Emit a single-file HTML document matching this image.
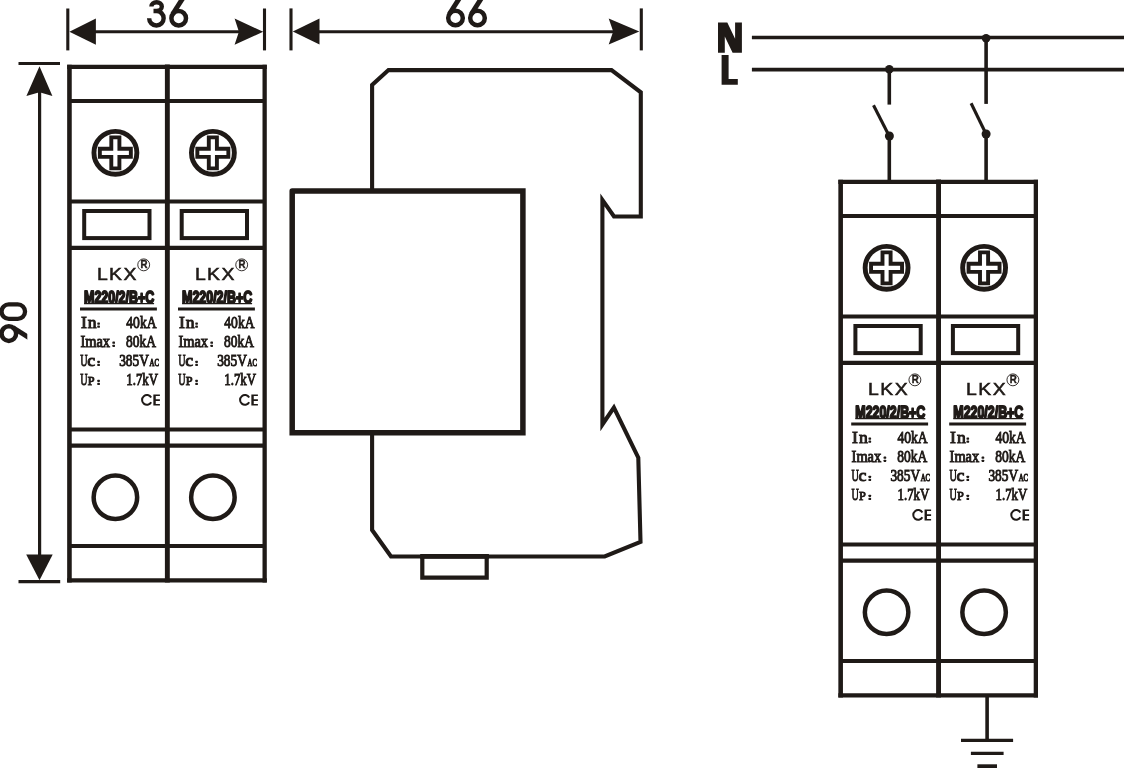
<!DOCTYPE html>
<html>
<head>
<meta charset="utf-8">
<title>Dimensions and wiring</title>
<style>
html,body{margin:0;padding:0;background:#fff;}
body{width:1124px;height:768px;overflow:hidden;font-family:"Liberation Sans",sans-serif;}
svg{display:block;position:absolute;left:0;top:0;will-change:transform;}
.ln{stroke:#1f1a17;fill:none;}
.fl{fill:#1f1a17;stroke:none;}
text{fill:#1f1a17;}
.sans{font-family:"Liberation Sans",sans-serif;}
.serif{font-family:"Liberation Serif",serif;}
</style>
</head>
<body>
<svg width="1124" height="768" viewBox="0 0 1124 768">
<rect x="0" y="0" width="1124" height="768" fill="#ffffff"/>
<defs>
  <clipPath id="capclip"><rect x="-14" y="-28" width="28" height="30"/></clipPath>
  <!-- geometric digits, origin: x = glyph centre, y = baseline -->
  <g id="d6" clip-path="url(#capclip)">
    <circle class="ln" cx="0" cy="-9.55" r="7.3" stroke-width="4.5"/>
    <line class="ln" x1="-6.14" y1="-13.54" x2="5.5" y2="-31.7" stroke-width="4.9"/>
  </g>
  <g id="d9"><use href="#d6" transform="translate(0,-28) scale(-1,-1)"/></g>
  <g id="d0">
    <rect class="ln" x="-7.25" y="-25.75" width="14.5" height="23.5" rx="7.25" ry="7.25" stroke-width="4.3"/>
  </g>
  <g id="d3">
    <path class="ln" stroke-width="4.4" d="M-5.1 -21.2 A5.2 4.4 0 1 1 0.1 -16.8 L-3 -16.8 M-3 -16.8 L-0.1 -16.8 A7.25 7.25 0 1 1 -7.35 -9.55"/>
  </g>
  <!-- one cell's label text, origin = left device left cell -->
  <g id="label">
    <text class="sans" x="96.9" y="279.6" font-size="16.4" textLength="40.9" lengthAdjust="spacingAndGlyphs" stroke="#1f1a17" stroke-width="0.5" letter-spacing="1.2">LKX</text>
    <circle class="ln" cx="143.7" cy="264.85" r="5.95" stroke-width="0.9"/>
    <text class="sans" x="140.5" y="268.3" font-size="10.4" font-weight="bold" textLength="7" lengthAdjust="spacingAndGlyphs" stroke="#1f1a17" stroke-width="0.4">R</text>
    <text class="sans" x="84.1" y="303.3" font-size="17.2" font-weight="bold" textLength="70" lengthAdjust="spacingAndGlyphs" stroke="#1f1a17" stroke-width="1.9" stroke-linejoin="round">M220/2/B+C</text>
    <line class="ln" x1="84.1" y1="303.7" x2="154.1" y2="303.7" stroke-width="1.2"/>
    <line class="ln" x1="80" y1="309" x2="156.9" y2="309" stroke-width="3"/>
    <g class="serif" font-size="16.4" stroke="#1f1a17" stroke-width="0.95">
      <text x="80.9" y="327.7" textLength="5.9" lengthAdjust="spacingAndGlyphs">I</text><text x="87.8" y="327.7" textLength="8.8" lengthAdjust="spacingAndGlyphs">n</text>
      <text x="126.3" y="327.7" textLength="30.2" lengthAdjust="spacingAndGlyphs">40kA</text>
      <text x="80.4" y="346.8" textLength="29.6" lengthAdjust="spacingAndGlyphs">Imax</text>
      <text x="126" y="346.8" textLength="30" lengthAdjust="spacingAndGlyphs">80kA</text>
      <text x="80.2" y="365.9" textLength="7.3" lengthAdjust="spacingAndGlyphs">U</text><text x="87.3" y="365.9" textLength="7.9" lengthAdjust="spacingAndGlyphs">c</text>
      <text x="119.2" y="365.9" textLength="29.7" lengthAdjust="spacingAndGlyphs">385V</text>
      <text x="149.5" y="365.9" font-size="9.8" textLength="9.4" lengthAdjust="spacingAndGlyphs">AC</text>
      <text x="80.2" y="384.9" textLength="7.3" lengthAdjust="spacingAndGlyphs">U</text>
      <text x="87.8" y="384.9" font-size="13.2" textLength="6.8" lengthAdjust="spacingAndGlyphs">P</text>
      <text x="126.3" y="384.9" textLength="31.8" lengthAdjust="spacingAndGlyphs">1.7kV</text>
    </g>
    <!-- colons -->
    <g class="fl">
      <rect x="97.3" y="322.5" width="2.6" height="2.2" rx="0.6"/><rect x="97.3" y="325.6" width="2.6" height="2.2" rx="0.6"/>
      <rect x="112.4" y="341.6" width="2.6" height="2.2" rx="0.6"/><rect x="112.4" y="344.7" width="2.6" height="2.2" rx="0.6"/>
      <rect x="97.3" y="360.7" width="2.6" height="2.2" rx="0.6"/><rect x="97.3" y="363.8" width="2.6" height="2.2" rx="0.6"/>
      <rect x="97.3" y="379.7" width="2.6" height="2.2" rx="0.6"/><rect x="97.3" y="382.8" width="2.6" height="2.2" rx="0.6"/>
    </g>
    <path class="ln" stroke-width="2" d="M151.17 397.47 A4.87 4.87 0 1 0 151.17 402.33"/>
    <path class="fl" d="M153.35 394.4 H159.9 V396 H155.75 V399.3 H159.9 V400.9 H155.75 V403.95 H159.9 V405.5 H153.35 Z"/>
  </g>
  <!-- one cell's graphics -->
  <g id="cellgfx">
    <circle class="ln" cx="115.4" cy="152.8" r="21.45" stroke-width="4.9"/>
    <path class="ln" stroke-width="3.9" stroke-linejoin="miter" d="M111.3 137.35 H119.4 V148.8 H130.85 V156.9 H119.4 V168.35 H111.3 V156.9 H99.85 V148.8 H111.3 Z"/>
    <rect class="ln" x="84.2" y="211" width="65.3" height="27.1" stroke-width="4"/>
    <circle class="ln" cx="115.4" cy="497.2" r="21.75" stroke-width="4.5"/>
  </g>
  <g id="device">
    <line class="ln" x1="67.15" y1="66.9" x2="266.8" y2="66.9" stroke-width="4.1"/>
    <line class="ln" x1="67.15" y1="580.3" x2="266.8" y2="580.3" stroke-width="4.3"/>
    <line class="ln" x1="69.45" y1="64.85" x2="69.45" y2="582.45" stroke-width="4.6"/>
    <line class="ln" x1="264.65" y1="64.85" x2="264.65" y2="582.45" stroke-width="4.3"/>
    <line class="ln" x1="167.35" y1="64.6" x2="167.35" y2="582.45" stroke-width="4.9"/>
    <g class="ln" stroke-width="4.1">
      <line x1="69.5" y1="101" x2="264.7" y2="101"/>
      <line x1="69.5" y1="201.5" x2="264.7" y2="201.5"/>
      <line x1="69.5" y1="247.9" x2="264.7" y2="247.9"/>
      <line x1="69.5" y1="429.5" x2="264.7" y2="429.5"/>
      <line x1="69.5" y1="445.6" x2="264.7" y2="445.6"/>
      <line x1="69.5" y1="546" x2="264.7" y2="546"/>
    </g>
    <use href="#cellgfx"/>
    <use href="#cellgfx" transform="translate(97.5,0)"/>
    <use href="#label"/>
    <use href="#label" transform="translate(98,0)"/>
  </g>
</defs>

<!-- LEFT: front view -->
<use href="#device"/>
<!-- 36 dimension -->
<g class="ln" stroke-width="3.1">
  <line x1="67.8" y1="8.5" x2="67.8" y2="50.4"/>
  <line x1="264.5" y1="8.5" x2="264.5" y2="50.4"/>
  <line x1="90" y1="31.8" x2="240" y2="31.8"/>
</g>
<path class="fl" d="M69.4 31.8 L95.9 18.6 L95.9 44.8 Z"/>
<path class="fl" d="M263.2 31.8 L234.6 18.6 L238.9 31.8 L234.6 44.8 Z"/>
<g role="img" aria-label="36"><title>36</title><use href="#d3" transform="translate(156.5,27.8)"/><use href="#d6" transform="translate(178.7,27.8)"/></g>
<!-- 90 dimension -->
<g class="ln" stroke-width="3.2">
  <line x1="18.5" y1="63.5" x2="60" y2="63.5"/>
  <line x1="18.5" y1="581.6" x2="60.2" y2="581.6"/>
  <line x1="39.6" y1="90" x2="39.6" y2="560"/>
</g>
<path class="fl" d="M39.5 66.2 L52.4 96 L39.5 92.3 L26.4 96 Z"/>
<path class="fl" d="M39.5 580.3 L26.2 554.4 L52.7 554.4 Z"/>
<g role="img" aria-label="90" transform="translate(27.3,333.6) rotate(-90)"><title>90</title><use href="#d9"/><use href="#d0" transform="translate(22,0)"/></g>

<!-- MIDDLE: side view -->
<path class="ln" stroke-width="4.1" stroke-linejoin="miter" d="M372.1 191 L372.1 85 L388.5 70.1 L611.5 70.1 L640.8 92.3 L640.8 216.5 L614 216.5 L602.4 199.9 L602.4 424.5 L613.9 407.5 L638.3 457.7 L640.5 541.8 L604.7 556.5 L391 556.4 L372.1 530 L372.1 432.7"/>
<path class="ln" stroke-width="5.5" stroke-linejoin="miter" stroke-linecap="round" d="M292.2 191.1 H522.9 V432.8 H292.2 V191.1"/>
<path class="ln" stroke-width="4.2" d="M422.3 556.4 V577.7 H486.7 V556.4"/>
<line class="ln" x1="420.2" y1="556.4" x2="488.9" y2="556.4" stroke-width="4.8"/>
<!-- 66 dimension -->
<g class="ln" stroke-width="3.1">
  <line x1="291" y1="8.4" x2="291" y2="50.4"/>
  <line x1="641.3" y1="8.4" x2="641.3" y2="50.4"/>
  <line x1="315" y1="31.7" x2="615" y2="31.7"/>
</g>
<path class="fl" d="M292.8 31.6 L319.5 18.4 L319.5 44.6 Z"/>
<path class="fl" d="M639.3 31.6 L608.7 18.6 L613.2 31.6 L608.7 44.6 Z"/>
<g role="img" aria-label="66"><title>66</title><use href="#d6" transform="translate(455.5,27.5)"/><use href="#d6" transform="translate(477.5,27.5)"/></g>

<!-- RIGHT: wiring -->
<use href="#device" transform="translate(771.2,115)"/>
<path class="fl" aria-label="N" d="M718 52.75 V22.5 H727.3 L735.1 38.66 V22.5 H741.9 V52.75 H732.6 L724.8 36.59 V52.75 Z"/>
<path class="fl" aria-label="L" d="M721.6 55.1 H728.6 V79.1 H737.8 V84.8 H721.6 Z"/>
<g class="ln" stroke-width="3.6">
  <line x1="751.9" y1="37.5" x2="1124" y2="37.5"/>
  <line x1="751.9" y1="69.6" x2="1124" y2="69.6"/>
  <line x1="889.3" y1="69.6" x2="889.3" y2="104.6"/>
  <line x1="889.3" y1="136" x2="889.3" y2="182"/>
  <line x1="986.1" y1="37.5" x2="986.1" y2="103.9"/>
  <line x1="986.1" y1="134" x2="986.1" y2="182"/>
  <line x1="987.1" y1="696" x2="987.1" y2="740.3"/>
</g>
<g class="ln" stroke-width="3.1">
  <line x1="873.5" y1="105.2" x2="888.7" y2="135"/>
  <line x1="971.1" y1="103.2" x2="985.7" y2="133.3"/>
</g>
<g class="fl">
  <circle cx="889.3" cy="69.2" r="4.3"/>
  <circle cx="986.1" cy="38.2" r="4.3"/>
  <circle cx="889.4" cy="136" r="4.5"/>
  <circle cx="986.1" cy="134" r="4.5"/>
</g>
<g class="ln" stroke-width="3.3">
  <line x1="961" y1="740.3" x2="1013.1" y2="740.3"/>
  <line x1="970.9" y1="753.3" x2="1003.6" y2="753.3"/>
</g>
<rect class="fl" x="977.4" y="764.3" width="19.6" height="4"/>
</svg>
</body>
</html>
